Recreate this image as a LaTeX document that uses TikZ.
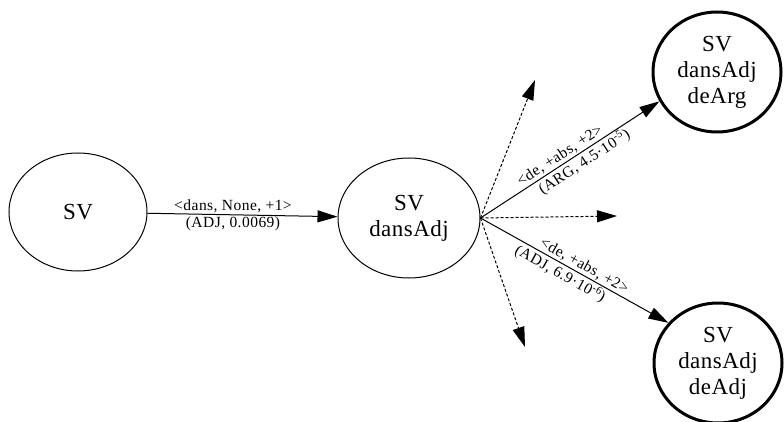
\documentclass[tikz,border=0pt]{standalone}
\usepackage{fontspec}
\setmainfont{Liberation Serif}
\newfontfamily\statefont[LetterSpace=2]{Liberation Serif}
\newfontfamily\labelfont[LetterSpace=3]{Liberation Serif}
\usetikzlibrary{arrows.meta,shapes.geometric}

\begin{document}
\begin{tikzpicture}[x=1pt,y=-1pt,
  state/.style={ellipse, draw, line width=1pt, inner sep=0pt, align=center,
    font=\statefont\fontsize{23}{26}\selectfont},
  final/.style={state, line width=3pt},
  edge/.style={line width=1pt, -{Triangle[length=20pt,width=12pt]}},
  guess/.style={edge, dash pattern=on 3pt off 2pt},
  elabel/.style={font=\labelfont\fontsize{15.5}{17}\selectfont, inner sep=1.5pt}]
  \useasboundingbox (0,0) rectangle (784,422);

  % states
  \node[state, minimum width=138pt, minimum height=118pt] (sv) at (78,212) {SV};
  \node[state, minimum width=142pt, minimum height=120pt] (svd) at (409,218) {SV\\dansAdj};
  \node[final, minimum width=128pt, minimum height=120pt] (arg) at (717,72) {SV\\dansAdj\\deArg};
  \node[final, minimum width=128pt, minimum height=120pt] (adj) at (718,363) {SV\\dansAdj\\deAdj};

  % free ends of the unexplored transitions
  \coordinate (u1) at (535,80);
  \coordinate (u2) at (617,216);
  \coordinate (u3) at (525,347);

  % transitions
  \draw[edge] (sv) -- (svd)
    node[elabel, above, pos=0.45] {<dans, None, +1>}
    node[elabel, below, pos=0.45] {(ADJ, 0.0069)};
  \draw[guess] (svd.east) -- (u1);
  \draw[guess] (svd.east) -- (u2);
  \draw[guess] (svd.east) -- (u3);
  \draw[edge] (svd.east) -- (arg.207)
    node[elabel, sloped, above, pos=0.47] {<de, +abs, +2>}
    node[elabel, sloped, below, pos=0.55] {(ARG, 4.5·10\textsuperscript{-5})};
  \draw[edge] (svd.east) -- (adj.141)
    node[elabel, sloped, above, pos=0.53] {<de, +abs, +2>}
    node[elabel, sloped, below, pos=0.45] {(ADJ, 6.9·10\textsuperscript{-6})};
\end{tikzpicture}
\end{document}
